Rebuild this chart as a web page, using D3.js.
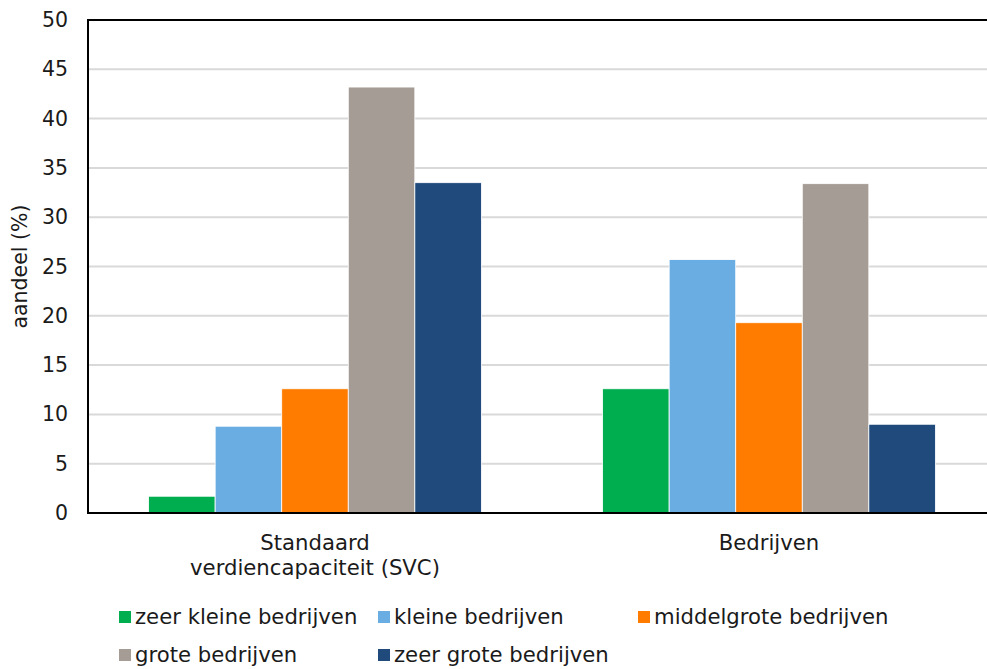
<!DOCTYPE html>
<html>
<head>
<meta charset="utf-8">
<script src="https://cdn.jsdelivr.net/npm/d3@7/dist/d3.min.js"></script>
<style>
  html, body { margin: 0; padding: 0; background: #fff; }
  svg { display: block; }
  text { font-family: "DejaVu Sans", Verdana, sans-serif; fill: #1a1a1a; }
</style>
</head>
<body>
<svg id="chart" width="987" height="669"></svg>
<script>
const categories = [["Standaard", "verdiencapaciteit (SVC)"], ["Bedrijven"]];
const categoryKeys = ["SVC", "Bedrijven"];
const seriesNames = ["zeer kleine bedrijven", "kleine bedrijven", "middelgrote bedrijven", "grote bedrijven", "zeer grote bedrijven"];
const seriesColors = ["#00ad4f", "#6aade3", "#ff7c00", "#a59c95", "#204a7c"];
const svcValues = [1.7, 8.8, 12.6, 43.2, 33.5];
const bedrijvenValues = [12.6, 25.7, 19.3, 33.4, 9.0];
const yTicks = [0, 5, 10, 15, 20, 25, 30, 35, 40, 45, 50];
const yLabel = "aandeel (%)";

const values = [svcValues, bedrijvenValues];
const svg = d3.select("#chart");
const mLeft = 88, mRight = 996, mTop = 20, mBottom = 513;
const fs = 21.2;

const x0 = d3.scaleBand().domain(categoryKeys).range([mLeft, mRight]).paddingInner(0.267).paddingOuter(0.1335);
const x1 = d3.scaleBand().domain(d3.range(seriesNames.length)).range([0, x0.bandwidth()]);
const y = d3.scaleLinear().domain([0, 50]).range([mBottom, mTop]);

// gridlines
svg.append("g").selectAll("line").data(yTicks.filter(t => t > 0 && t < 50)).join("line")
  .attr("x1", mLeft).attr("x2", 987).attr("y1", d => y(d)).attr("y2", d => y(d))
  .attr("stroke", "#d9d9d9").attr("stroke-width", 2);
// top border
svg.append("line").attr("x1", mLeft).attr("x2", 987).attr("y1", y(50)).attr("y2", y(50))
  .attr("stroke", "#000").attr("stroke-width", 2);

// bars
categoryKeys.forEach((c, ci) => {
  svg.append("g").selectAll("rect").data(values[ci]).join("rect")
    .attr("x", (d, i) => x0(c) + x1(i))
    .attr("width", x1.bandwidth())
    .attr("y", d => y(d))
    .attr("height", d => y(0) - y(d))
    .attr("fill", (d, i) => seriesColors[i])
    .attr("stroke", "#fff").attr("stroke-width", 0.8);
});

// y axis
const yAxis = d3.axisLeft(y).tickValues(yTicks).tickSize(0).tickPadding(20);
const ga = svg.append("g").attr("transform", `translate(${mLeft},0)`).call(yAxis);
ga.select(".domain").remove();
ga.selectAll("text").style("font-family", '"DejaVu Sans", Verdana, sans-serif').style("font-size", "20.5px").attr("fill", "#1a1a1a");
svg.append("line").attr("x1", mLeft).attr("x2", mLeft).attr("y1", mTop - 1).attr("y2", mBottom + 1)
  .attr("stroke", "#000").attr("stroke-width", 2);
svg.append("line").attr("x1", mLeft).attr("x2", 987).attr("y1", mBottom).attr("y2", mBottom)
  .attr("stroke", "#000").attr("stroke-width", 2);

// y label
svg.append("text").attr("transform", `translate(27,${(mTop + mBottom) / 2}) rotate(-90)`)
  .attr("text-anchor", "middle").style("font-size", "20.5px").text(yLabel);

// x labels
categoryKeys.forEach((c, ci) => {
  const t = svg.append("text").attr("text-anchor", "middle").style("font-size", fs + "px");
  categories[ci].forEach((line, li) => {
    t.append("tspan").attr("x", x0(c) + x0.bandwidth() / 2).attr("y", 550 + li * 25).text(line);
  });
});

// legend
const legendPos = [[119, 617], [378, 617], [638, 617], [119, 655], [378, 655]];
seriesNames.forEach((name, i) => {
  const [lx, ly] = legendPos[i];
  svg.append("rect").attr("x", lx).attr("y", ly - 6).attr("width", 12).attr("height", 12).attr("fill", seriesColors[i]);
  svg.append("text").attr("x", lx + 16).attr("y", ly).attr("dy", "0.35em").style("font-size", fs + "px").text(name);
});
</script>
</body>
</html>
